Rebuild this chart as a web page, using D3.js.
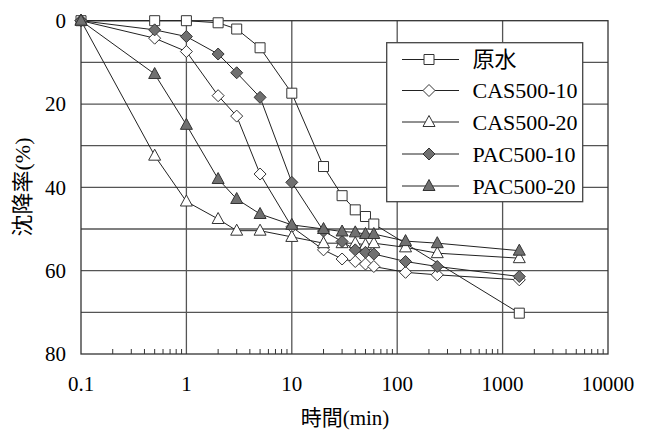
<!DOCTYPE html>
<html>
<head>
<meta charset="utf-8">
<script src="https://cdn.jsdelivr.net/npm/d3@7"></script>
<style>
body { margin: 0; background: #fff; }
</style>
</head>
<body>
<svg id="chart" width="650" height="432"></svg>
<script>
'use strict';

// time (min)
var times = [0.1, 0.5, 1, 2, 3, 5, 10, 20, 30, 40, 50, 60, 120, 240, 1440];

// settling rate (%) per series, null = no measurement
var raw_water = [0, 0, 0, 0.5, 2, 6.5, 17.4, 35, 42, 45.4, 47, 48.8, null, null, 70.2];
var cas500_10 = [0, 4.2, 7.4, 18, 22.9, 36.8, 49.5, 55, 57.2, 57.8, 58.4, 59, 60.4, 61, 62.2];
var cas500_20 = [0, 32.4, 43.4, 47.6, 50.4, 50.4, 51.9, 53.4, 53.4, 53.4, 53.8, 53.4, 54.4, 55.8, 57];
var pac500_10 = [0, 2.2, 3.8, 8, 12.5, 18.4, 38.8, 50.5, 53, 55, 55.6, 56, 57.8, 59, 61.4];
var pac500_20 = [0, 12.8, 25, 38, 42.8, 46.4, 49, 50, 50.6, 50.8, 51.2, 51.2, 52.9, 53.4, 55.2];

var series_names = ['原水', 'CAS500-10', 'CAS500-20', 'PAC500-10', 'PAC500-20'];
var series_values = [raw_water, cas500_10, cas500_20, pac500_10, pac500_20];
var series_shapes = ['square', 'diamond', 'triangle', 'diamond', 'triangle'];
var series_filled = [false, false, false, true, true];

var x_ticks = [0.1, 1, 10, 100, 1000, 10000];
var y_ticks = [0, 20, 40, 60, 80];

(function() {
    var font = "'Liberation Serif', 'Noto Sans CJK JP', serif";
    var svg = d3.select('#chart').style('font-family', font),
        plot_left = 81, plot_right = 608, plot_top = 20.7, plot_bottom = 354;

    var x = d3.scaleLog().domain([0.1, 10000]).range([plot_left, plot_right]);
    var y = d3.scaleLinear().domain([0, 80]).range([plot_top, plot_bottom]);

    // horizontal grid every 10 %
    var grid = svg.append('g');
    grid.selectAll('line.h')
        .data(d3.range(10, 80, 10))
        .enter().append('line')
        .attr('x1', plot_left).attr('x2', plot_right)
        .attr('y1', function(d) { return y(d); })
        .attr('y2', function(d) { return y(d); })
        .attr('stroke', '#555').attr('stroke-width', 1.3);

    // vertical grid at decades
    grid.selectAll('line.v')
        .data([1, 10, 100, 1000])
        .enter().append('line')
        .attr('y1', plot_top).attr('y2', plot_bottom)
        .attr('x1', function(d) { return x(d); })
        .attr('x2', function(d) { return x(d); })
        .attr('stroke', '#555').attr('stroke-width', 1.3);

    // frame
    svg.append('rect')
        .attr('x', plot_left).attr('y', plot_top)
        .attr('width', plot_right - plot_left).attr('height', plot_bottom - plot_top)
        .attr('fill', 'none').attr('stroke', '#333').attr('stroke-width', 1.3);

    // minor ticks on bottom axis, pointing inward
    var minor = [];
    [0.1, 1, 10, 100, 1000].forEach(function(dec) {
        for (var k = 2; k <= 9; k++) minor.push(dec * k);
    });
    svg.append('g').selectAll('line')
        .data(minor)
        .enter().append('line')
        .attr('x1', function(d) { return x(d); })
        .attr('x2', function(d) { return x(d); })
        .attr('y1', plot_bottom).attr('y2', plot_bottom - 5)
        .attr('stroke', '#333').attr('stroke-width', 1);

    // tick labels
    svg.append('g').selectAll('text')
        .data(x_ticks)
        .enter().append('text')
        .attr('x', function(d) { return x(d); })
        .attr('y', 391)
        .attr('text-anchor', 'middle')
        .attr('font-size', 21)
        .text(function(d) { return String(d); });

    svg.append('g').selectAll('text')
        .data(y_ticks)
        .enter().append('text')
        .attr('x', 66)
        .attr('y', function(d) { return y(d); })
        .attr('dy', '0.35em')
        .attr('text-anchor', 'end')
        .attr('font-size', 21)
        .text(function(d) { return String(d); });

    // axis titles
    svg.append('text')
        .attr('x', 345).attr('y', 425)
        .attr('text-anchor', 'middle')
        .attr('font-size', 21)
        .text('時間(min)');

    svg.append('text')
        .attr('transform', 'translate(30,187) rotate(-90)')
        .attr('text-anchor', 'middle')
        .attr('font-size', 22)
        .text('沈降率(%)');

    function markerPath(shape) {
        if (shape === 'square') return 'M-5,-5h10v10h-10z';
        if (shape === 'diamond') return 'M0,-6L6,0L0,6L-6,0z';
        return 'M0,-6.5L6,4.5L-6,4.5z';
    }

    var line_gen = d3.line()
        .x(function(d) { return x(d.t); })
        .y(function(d) { return y(d.v); });

    var plot = svg.append('g');

    function points(vals) {
        var pts = [];
        vals.forEach(function(v, j) {
            if (v !== null) pts.push({ t: times[j], v: v });
        });
        return pts;
    }

    series_values.forEach(function(vals) {
        plot.append('path')
            .attr('d', line_gen(points(vals)))
            .attr('fill', 'none')
            .attr('stroke', '#222')
            .attr('stroke-width', 1);
    });

    series_values.forEach(function(vals, i) {
        plot.append('g').selectAll('path')
            .data(points(vals))
            .enter().append('path')
            .attr('d', markerPath(series_shapes[i]))
            .attr('transform', function(d) { return 'translate(' + x(d.t) + ',' + y(d.v) + ')'; })
            .attr('fill', series_filled[i] ? '#707070' : '#fff')
            .attr('stroke', '#333')
            .attr('stroke-width', 1);
    });

    // legend
    var legend = svg.append('g');
    legend.append('rect')
        .attr('x', 386.7).attr('y', 42.7)
        .attr('width', 196).attr('height', 159)
        .attr('fill', '#fff').attr('stroke', '#444').attr('stroke-width', 1.3);

    var legend_y = [59.5, 90.5, 122, 154, 186];
    series_names.forEach(function(name, i) {
        var g = legend.append('g').attr('transform', 'translate(0,' + legend_y[i] + ')');
        g.append('line')
            .attr('x1', 402).attr('x2', 459)
            .attr('stroke', '#222').attr('stroke-width', 1);
        g.append('path')
            .attr('d', markerPath(series_shapes[i]))
            .attr('transform', 'translate(429,0)')
            .attr('fill', series_filled[i] ? '#707070' : '#fff')
            .attr('stroke', '#333');
        g.append('text')
            .attr('x', 472.5).attr('dy', '0.35em')
            .attr('font-size', 22)
            .text(name);
    });
})();
</script>
</body>
</html>
